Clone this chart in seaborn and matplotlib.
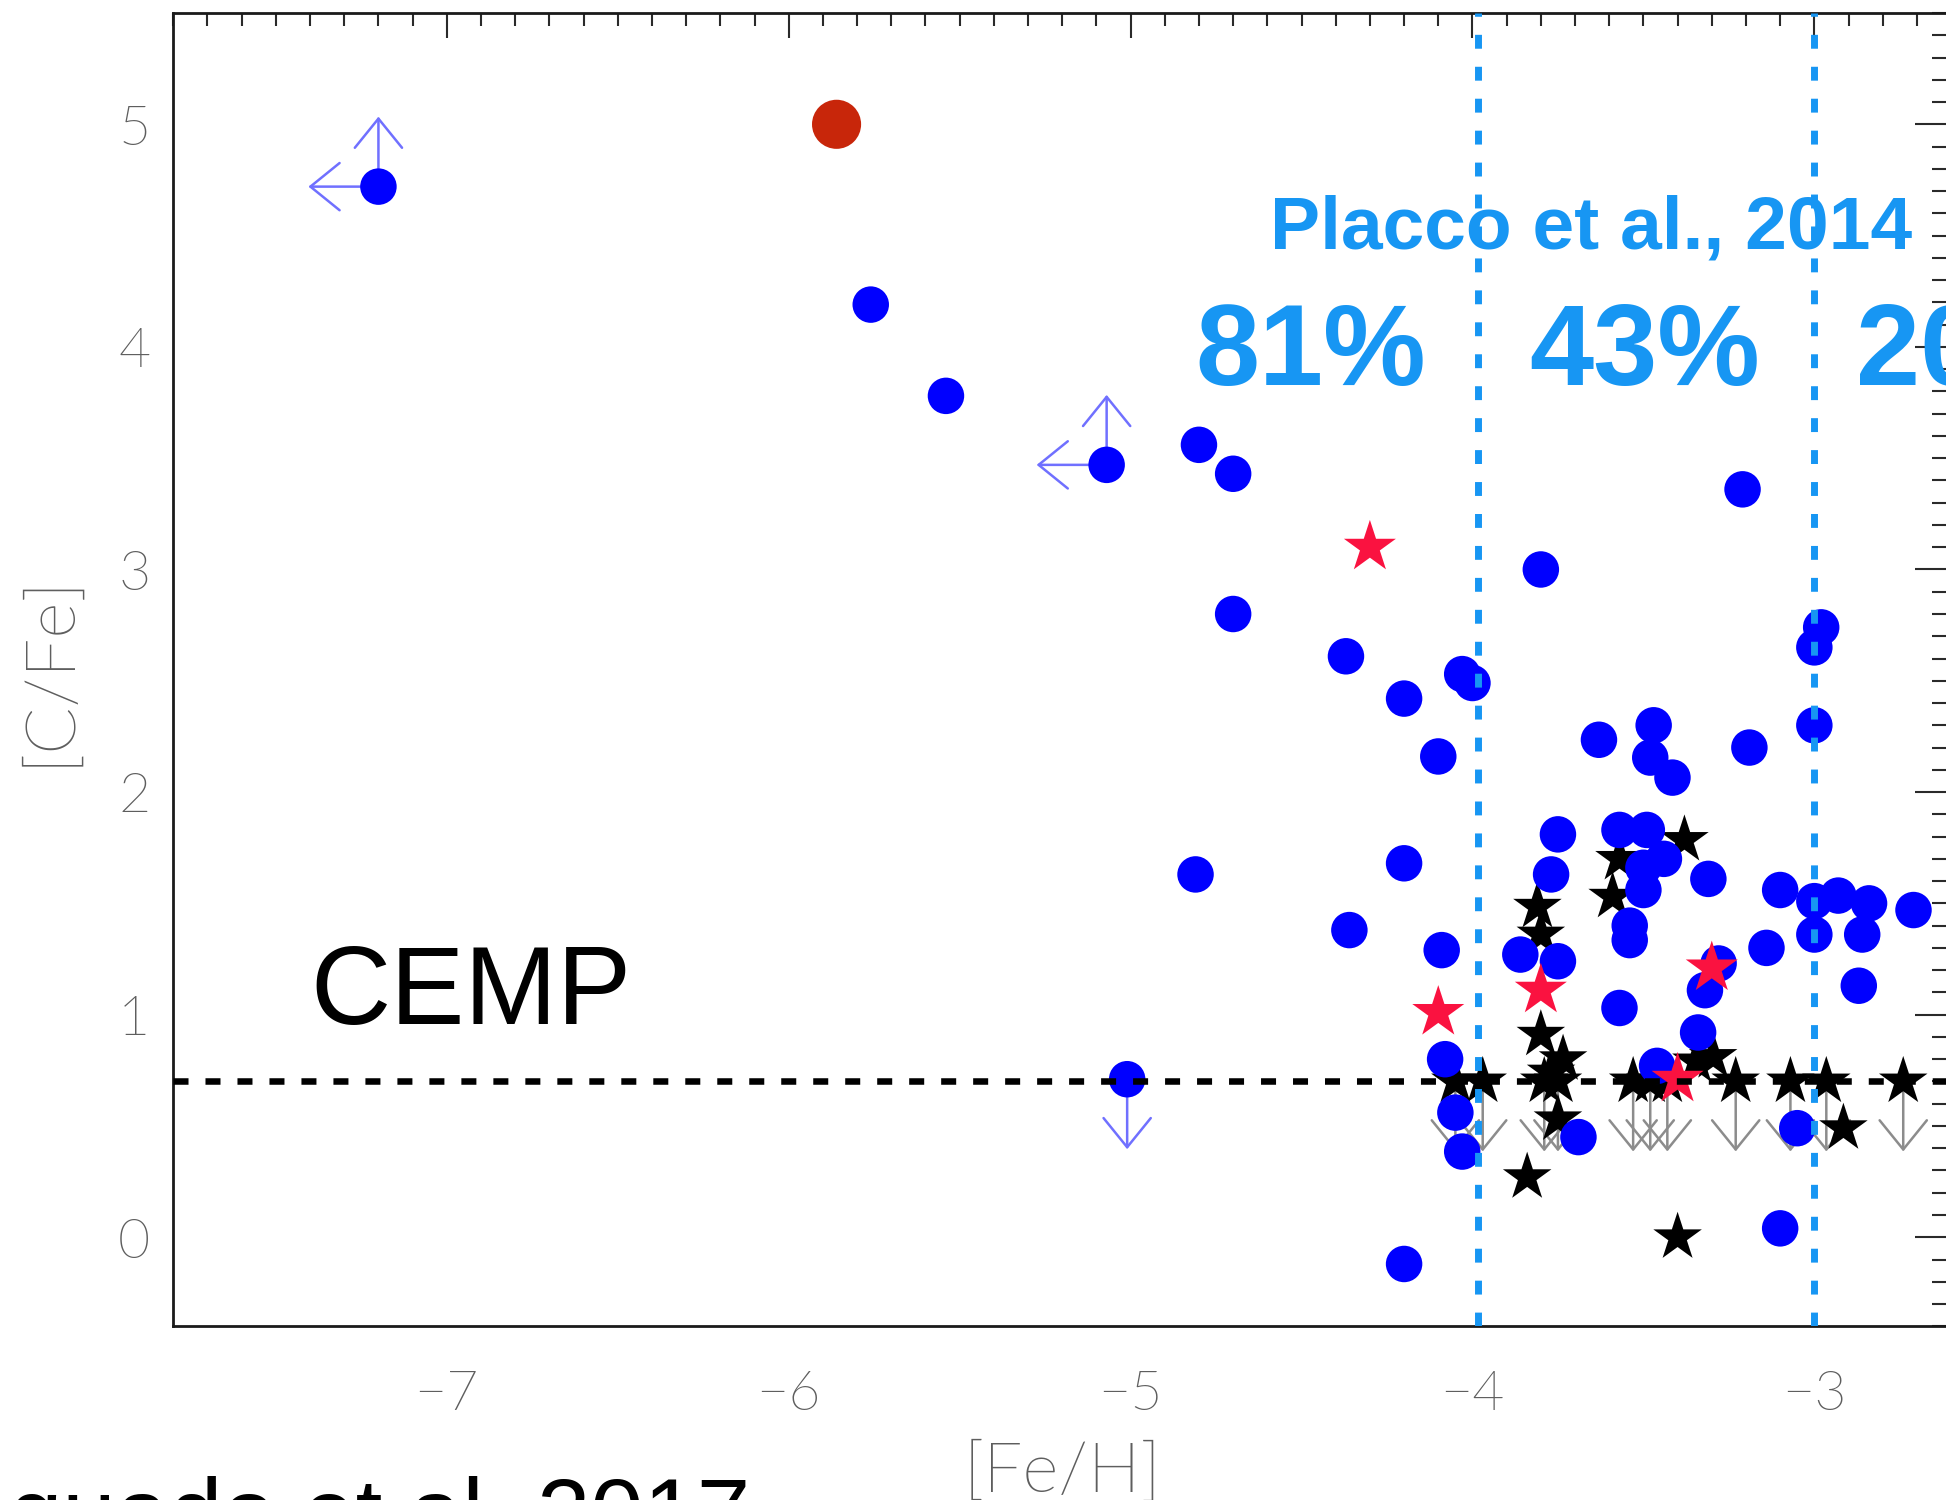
import numpy as np
import pandas as pd
import matplotlib
matplotlib.use("Agg")
import matplotlib.pyplot as plt
import seaborn as sns
from matplotlib.ticker import MultipleLocator
from matplotlib import font_manager as fm

# ---------------- data ----------------
blue_feh = [-5.76, -5.54, -4.80, -4.70, -4.70, -4.37, -4.20, -4.03, -4.00, -4.10,
            -4.81, -4.20, -4.36, -4.09, -4.08, -4.05, -4.03, -4.20, -3.80, -3.21,
            -2.98, -3.00, -3.00, -3.19, -3.63, -3.47, -3.48, -3.415, -3.75, -3.77,
            -3.57, -3.49, -3.44, -3.50, -3.50, -3.54, -3.54, -3.31, -3.10, -3.00,
            -2.93, -2.84, -2.71, -3.00, -2.86, -2.87, -3.14, -3.86, -3.75, -3.57,
            -3.34, -3.32, -3.28, -3.46, -3.69, -3.05, -3.10]
blue_cfe = [4.19, 3.78, 3.56, 3.43, 2.80, 2.61, 2.42, 2.53, 2.49, 2.16,
            1.63, 1.68, 1.38, 1.29, 0.80, 0.56, 0.385, -0.12, 3.00, 3.36,
            2.74, 2.65, 2.30, 2.20, 2.235, 2.30, 2.155, 2.065, 1.81, 1.63,
            1.83, 1.83, 1.70, 1.66, 1.56, 1.40, 1.335, 1.61, 1.56, 1.51,
            1.535, 1.50, 1.47, 1.36, 1.36, 1.13, 1.30, 1.27, 1.24, 1.03,
            0.92, 1.11, 1.23, 0.77, 0.45, 0.49, 0.04]

# blue points with lower limit in [C/Fe] and upper limit in [Fe/H]
blue_lim_feh = [-7.20, -5.07]
blue_lim_cfe = [4.72, 3.47]
# blue point with upper limit in [C/Fe]
blue_ul_feh = [-5.01]
blue_ul_cfe = [0.71]

red_star_feh = [-4.30, -4.10, -3.80, -3.30, -3.40]
red_star_cfe = [3.10, 1.01, 1.11, 1.21, 0.71]

black_star_feh = [-3.81, -3.80, -3.80, -3.735, -3.77, -3.75, -3.84, -3.57, -3.59,
                  -3.38, -3.345, -3.296, -2.915, -3.40]
black_star_cfe = [1.485, 1.36, 0.91, 0.80, 0.74, 0.53, 0.27, 1.70, 1.53,
                  1.785, 0.79, 0.81, 0.49, 0.00]

# black stars that are upper limits in [C/Fe]
ul_star_feh = [-4.05, -3.97, -3.79, -3.75, -3.53, -3.48, -3.43, -3.23, -3.07, -2.965, -2.74]
ul_star_cfe = [0.70, 0.70, 0.70, 0.70, 0.70, 0.70, 0.70, 0.70, 0.70, 0.70, 0.70]

new_star_feh = [-5.86]
new_star_cfe = [5.00]

cemp_limit = 0.7
bin_lines = [-3.985, -3.0]
bin_labels = ["81%", "43%", "20%"]
xtick_vals = [-7, -6, -5, -4, -3]
xtick_labels = ["\u22127", "\u22126", "\u22125", "\u22124", "\u22123"]
ytick_vals = [0, 1, 2, 3, 4, 5]
ytick_labels = ["0", "1", "2", "3", "4", "5"]

# ---------------- style ----------------
sns.set_style("white")
plt.rcParams["font.family"] = ["Liberation Sans", "DejaVu Sans"]


def pick_light_font():
    cands = ["Lato", "Roboto", "Open Sans", "Inter", "Noto Sans", "DejaVu Sans"]
    for name in cands:
        for f in fm.fontManager.ttflist:
            if f.name == name and f.style == "normal":
                w = f.weight
                if isinstance(w, str):
                    w = fm.weight_dict.get(w, 400)
                if w <= 300:
                    return fm.FontProperties(fname=f.fname, size=40)
    return fm.FontProperties(family="DejaVu Sans", size=40)


light_fp = pick_light_font()

W, H = 1946, 1500
fig = plt.figure(figsize=(W / 100, H / 100), dpi=100)
left_px, right_px = 173.3, 1951.1
top_px, bot_px = 13.0, 1326.3
ax = fig.add_axes([left_px / W, 1 - bot_px / H, (right_px - left_px) / W, (bot_px - top_px) / H])
ax.set_xlim(-7.8, -2.6)
ax.set_ylim(-0.4, 5.5)

BLUE = "#0000ff"
LBLUE = "#1796f3"
ARROW_BLUE = "#7070ff"
GRAY = "#8c8c8c"
LABEL_GRAY = "#5e5e5e"

# ---------------- limit arrows ----------------
L = 50.4  # arrow length in points (~70 px)


def arrow(x, y, dx, dy, color, z):
    ax.annotate("", xy=(x, y), xycoords="data", xytext=(dx, dy), textcoords="offset points",
                arrowprops=dict(arrowstyle="<-,head_length=2.1,head_width=1.7", mutation_scale=10,
                                color=color, lw=1.8, shrinkA=0, shrinkB=0),
                zorder=z)


for x, y in zip(blue_lim_feh, blue_lim_cfe):
    arrow(x, y, -L, 0, ARROW_BLUE, 2)
    arrow(x, y, 0, L, ARROW_BLUE, 2)
for x, y in zip(blue_ul_feh, blue_ul_cfe):
    arrow(x, y, 0, -L, ARROW_BLUE, 2)
for x, y in zip(ul_star_feh, ul_star_cfe):
    arrow(x, y, 0, -L, GRAY, 2)

# ---------------- scatter ----------------
df_black = pd.DataFrame({"feh": black_star_feh + ul_star_feh, "cfe": black_star_cfe + ul_star_cfe})
df_blue = pd.DataFrame({"feh": blue_feh + blue_lim_feh + blue_ul_feh,
                        "cfe": blue_cfe + blue_lim_cfe + blue_ul_cfe})
df_red = pd.DataFrame({"feh": red_star_feh, "cfe": red_star_cfe})
df_new = pd.DataFrame({"feh": new_star_feh, "cfe": new_star_cfe})

sns.scatterplot(data=df_black, x="feh", y="cfe", marker="*", s=1350, color="black",
                edgecolor="none", linewidth=0, ax=ax, zorder=3, legend=False)
sns.scatterplot(data=df_blue, x="feh", y="cfe", marker="o", s=690, color=BLUE,
                edgecolor="none", linewidth=0, ax=ax, zorder=4, legend=False)
sns.scatterplot(data=df_new, x="feh", y="cfe", marker="o", s=1250, color="#c8260a",
                edgecolor="none", linewidth=0, ax=ax, zorder=4, legend=False)
sns.scatterplot(data=df_red, x="feh", y="cfe", marker="*", s=1550, color="#fa1240",
                edgecolor="none", linewidth=0, ax=ax, zorder=5, legend=False)

# ---------------- reference lines ----------------
ax.axhline(cemp_limit, color="black", lw=4.7, dashes=(2.3, 2.6), zorder=6, solid_capstyle="butt")
for xv in bin_lines:
    ax.axvline(xv, color=LBLUE, lw=5.0, dashes=(2.0, 2.6), zorder=6)

# ---------------- axes styling ----------------
ax.set_xticks(xtick_vals)
ax.set_xticklabels(xtick_labels, fontproperties=light_fp)
ax.set_yticks(ytick_vals)
ax.set_yticklabels(ytick_labels, fontproperties=light_fp)
ax.xaxis.set_minor_locator(MultipleLocator(0.1))
ax.yaxis.set_minor_locator(MultipleLocator(0.1))
ax.tick_params(axis="both", which="both", direction="in", top=True, right=True,
               color="#2a2a2a", width=1.5, labelcolor=LABEL_GRAY)
ax.tick_params(axis="x", which="major", length=18, pad=31)
ax.tick_params(axis="x", which="minor", length=9.4)
ax.tick_params(axis="y", which="major", length=26, pad=16.5)
ax.tick_params(axis="y", which="minor", length=13.7)
for sp in ax.spines.values():
    sp.set_color("#1a1a1a")
    sp.set_linewidth(2.0)

lab_fp = light_fp.copy()
lab_fp.set_size(50)
ax.set_xlabel("[Fe/H]", fontproperties=lab_fp, color=LABEL_GRAY, labelpad=15)
ax.set_ylabel("[C/Fe]", fontproperties=lab_fp, color=LABEL_GRAY, labelpad=27)

# ---------------- annotations ----------------
ax.text(-3.652, 4.44, "Placco et al., 2014", color=LBLUE, fontsize=54, fontweight="bold",
        ha="center", va="baseline", zorder=7)
for xv, lab in zip([-4.474, -3.497, -2.54], bin_labels):
    ax.text(xv, 3.83, lab, color=LBLUE, fontsize=83, fontweight="bold",
            ha="center", va="baseline", zorder=7)
ax.text(-7.40, 0.958, "CEMP", color="black", fontsize=80, ha="left", va="baseline", zorder=7)
fig.text(750 / W, -46 / H, "Aguado et al. 2017", color="black", fontsize=69,
         ha="right", va="baseline")

fig.savefig("out.png", dpi=100, facecolor="white")
